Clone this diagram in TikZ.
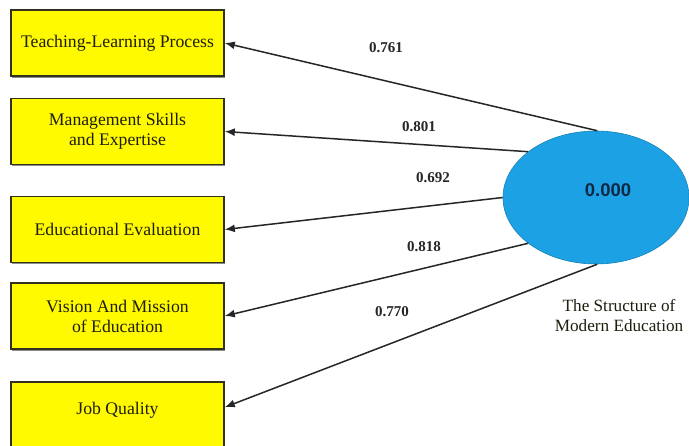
\documentclass[tikz,border=0pt]{standalone}
\usepackage{fontspec}
\setmainfont{Liberation Serif}
\newfontfamily\labelsans{Liberation Sans}
\usetikzlibrary{shapes.geometric,arrows.meta,shadows}

\definecolor{boxyellow}{RGB}{255,250,0}
\definecolor{boxedge}{RGB}{50,50,28}
\definecolor{ovalblue}{RGB}{28,162,228}
\definecolor{inktext}{RGB}{30,30,15}

\tikzset{
  itembox/.style={draw=boxedge, line width=1.6pt, fill=boxyellow,
    minimum width=213pt, minimum height=66pt, inner sep=0pt,
    align=center, text=inktext, font=\fontsize{17.7}{20}\selectfont,
    drop shadow={shadow xshift=0.8pt, shadow yshift=-1.6pt, fill=black, opacity=0.45}},
  latent/.style={ellipse, fill=ovalblue, draw=ovalblue!80!black, line width=0.6pt,
    minimum width=186pt, minimum height=133pt, inner sep=0pt},
  loading/.style={line width=1.5pt, draw=black!85, -{Latex[length=10pt,width=8pt]}},
  weight/.style={font=\bfseries\fontsize{15}{16}\selectfont, text=black!85},
}

\begin{document}
\begin{tikzpicture}[x=1pt, y=-1pt]
  \useasboundingbox[fill=white] (0,0) rectangle (689,446);

  % indicator boxes
  \node[itembox] (b1) at (117.5,43)  {Teaching-Learning Process};
  \node[itembox] (b2) at (117.5,131.5) {Management Skills\\and Expertise};
  \node[itembox] (b3) at (117.5,229.5) {Educational Evaluation};
  \node[itembox] (b4) at (117.5,316) {Vision And Mission\\of Education};
  \node[itembox] (b5) at (117.5,415) {};
  \node[text=inktext, font=\fontsize{17.7}{20}\selectfont] (t5) at (117.5,410) {Job Quality};

  % latent construct
  \node[latent] (lv) at (596,197.5) {};
  \node[font=\labelsans\bfseries\fontsize{18.5}{20}\selectfont, text={rgb,255:red,15;green,40;blue,70}] (lvval) at (608,190) {0.000};
  \node[align=center, text=inktext, font=\fontsize{17.2}{20}\selectfont] (lvname) at (619,316)
    {The Structure of\\Modern Education};

  % loadings
  \draw[loading] (lv.89)  -- (b1.east);
  \draw[loading] (lv.146) -- (b2.east);
  \draw[loading] (lv.180) -- (b3.east);
  \draw[loading] (lv.214) -- (b4.east);
  \draw[loading] (lv.271) -- ([yshift=-26pt]b5.north east);

  % loading values
  \node[weight] (w1) at (386,48)  {0.761};
  \node[weight] (w2) at (419,127) {0.801};
  \node[weight] (w3) at (433,178) {0.692};
  \node[weight] (w4) at (424,247) {0.818};
  \node[weight] (w5) at (392,312) {0.770};
\end{tikzpicture}
\end{document}
